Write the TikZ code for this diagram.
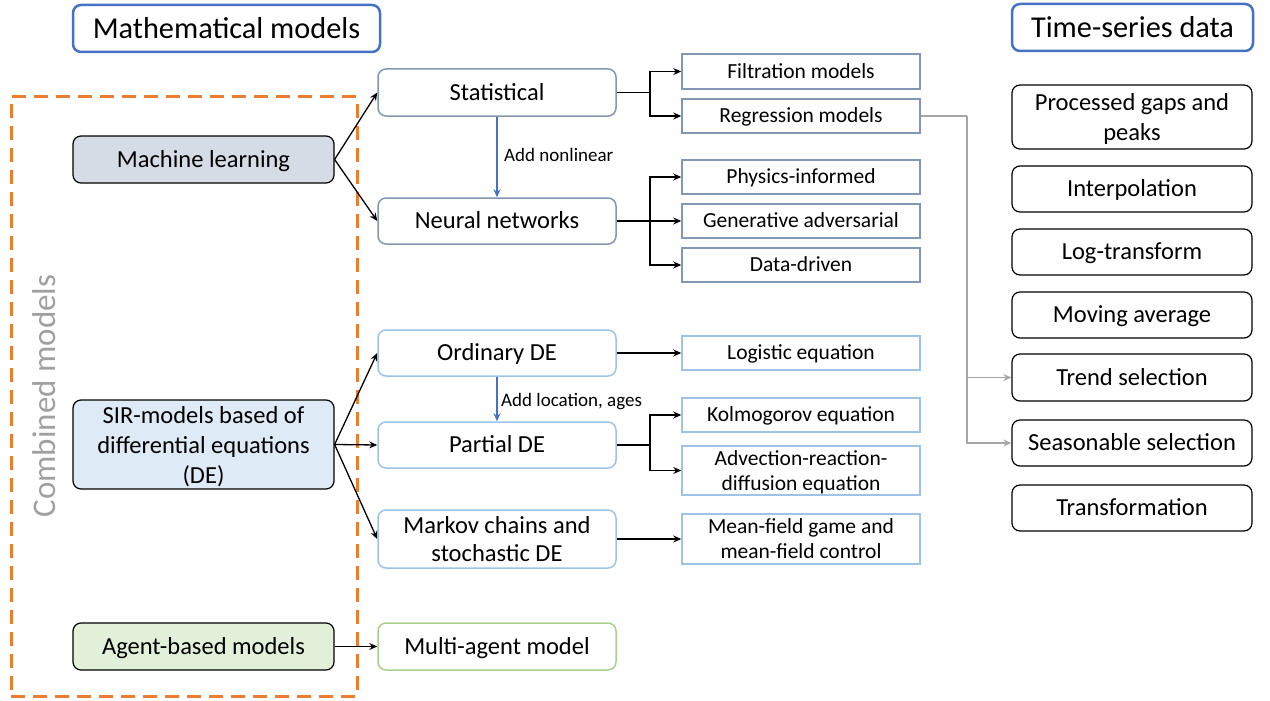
\documentclass[tikz,border=0pt]{standalone}
\usepackage{fontspec}
\setmainfont{Carlito}
\usetikzlibrary{arrows.meta}
\definecolor{hdrblue}{HTML}{4472C4}
\definecolor{slate}{HTML}{8497B0}
\definecolor{lblue}{HTML}{9DC3E6}
\definecolor{lgreen}{HTML}{A9D18E}
\definecolor{mlfill}{HTML}{D6DCE5}
\definecolor{sirfill}{HTML}{DEEBF7}
\definecolor{abfill}{HTML}{E2F0D9}
\definecolor{orng}{HTML}{ED7D31}
\definecolor{gline}{HTML}{A6A6A6}
\definecolor{ctext}{HTML}{A0A0A0}
\tikzset{
  base/.style={inner sep=0pt, align=center, text=black},
  hdr/.style={base, draw=hdrblue, line width=2.5pt, rounded corners=8pt, minimum width=#1, minimum height=47pt, font=\fontsize{30.3}{35}\selectfont, text height=19.3pt, text depth=0pt},
  bigbox/.style={base, draw=black, line width=1.2pt, rounded corners=8pt, font=\fontsize{24.5}{30}\selectfont},
  midbox/.style={base, line width=1.5pt, rounded corners=8pt, minimum width=238pt, font=\fontsize{24.5}{28}\selectfont},
  smallbox/.style={base, line width=1.5pt, minimum width=238pt, font=\fontsize{21.5}{25}\selectfont},
  rbox/.style={base, draw=black, line width=1.2pt, rounded corners=8pt, minimum width=240pt, font=\fontsize{24.5}{30}\selectfont},
  oneL/.style={text height=15.6pt, text depth=0pt},
  oneS/.style={text height=13.7pt, text depth=0pt},
  multi/.style={text depth=0pt},
  arr/.style={line width=1.3pt, -{Stealth[length=8pt,width=7pt]}},
  ln/.style={line width=1.3pt},
  barr/.style={line width=1.3pt, draw=hdrblue, -{Stealth[length=8pt,width=7pt]}},
  garr/.style={line width=1.3pt, draw=gline, -{Stealth[length=8pt,width=7pt]}},
  lbl/.style={inner sep=0pt, anchor=west, font=\fontsize{19}{22}\selectfont, text height=12.1pt, text depth=0pt}
}
\begin{document}
\begin{tikzpicture}[x=1pt,y=-1pt]
\useasboundingbox (0,0) rectangle (1270,701);
% headers
\node[hdr=307pt] (mm) at (226.5,28.5) {Mathematical models};
\node[hdr=241pt] (ts) at (1132.5,27.5) {Time-series data};
% combined models frame
\node[draw=orng, line width=3pt, dash pattern=on 14pt off 8pt, minimum width=346pt, minimum height=599pt, inner sep=0pt] (cb) at (184,396.5) {};
\node[rotate=90, text=ctext, inner sep=0pt, font=\fontsize{33}{38}\selectfont, text height=21pt, text depth=0pt] (cmt) at (45,396) {Combined models};
% left column
\node[bigbox, oneL, fill=mlfill, minimum width=261pt, minimum height=47pt] (ml) at (203.5,159.5) {Machine learning};
\node[bigbox, multi, fill=sirfill, minimum width=261pt, minimum height=89pt] (sir) at (203.5,444.5) {SIR-models based of\\differential equations\\(DE)};
\node[bigbox, oneL, fill=abfill, minimum width=261pt, minimum height=47pt] (ab) at (203.5,646.5) {Agent-based models};
% middle column
\node[midbox, oneL, draw=slate, minimum height=47pt] (stat) at (497,92.5) {Statistical};
\node[midbox, oneL, draw=slate, minimum height=46pt] (nn) at (497,221) {Neural networks};
\node[midbox, oneL, draw=lblue, minimum height=46pt] (ode) at (497,353) {Ordinary DE};
\node[midbox, oneL, draw=lblue, minimum height=46pt] (pde) at (497,445) {Partial DE};
\node[midbox, multi, draw=lblue, minimum height=58pt] (mc) at (497,539) {Markov chains and\\stochastic DE};
\node[midbox, oneL, draw=lgreen, minimum height=47pt] (ma) at (497,646.5) {Multi-agent model};
% small boxes
\node[smallbox, oneS, draw=slate, minimum height=35pt] (filt) at (801,71.5) {Filtration models};
\node[smallbox, oneS, draw=slate, minimum height=34pt] (reg) at (801,116) {Regression models};
\node[smallbox, oneS, draw=slate, minimum height=34pt] (phys) at (801,177) {Physics-informed};
\node[smallbox, oneS, draw=slate, minimum height=34pt] (gen) at (801,221) {Generative adversarial};
\node[smallbox, oneS, draw=slate, minimum height=34pt] (dd) at (801,265) {Data-driven};
\node[smallbox, oneS, draw=lblue, minimum height=34pt] (log) at (801,353) {Logistic equation};
\node[smallbox, oneS, draw=lblue, minimum height=34pt] (kol) at (801,415) {Kolmogorov equation};
\node[smallbox, multi, draw=lblue, minimum height=49pt] (adv) at (801,470.5) {Advection-reaction-\\diffusion equation};
\node[smallbox, multi, draw=lblue, minimum height=50pt] (mf) at (801,539) {Mean-field game and\\mean-field control};
% right column
\node[rbox, multi, minimum height=64pt] (pg) at (1132,117) {Processed gaps and\\peaks};
\node[rbox, oneL, minimum height=46pt] (interp) at (1132,189) {Interpolation};
\node[rbox, oneL, minimum height=46pt] (logt) at (1132,252) {Log-transform};
\node[rbox, oneL, minimum height=46pt] (mov) at (1132,315) {Moving average};
\node[rbox, oneL, minimum height=47pt] (trend) at (1132,377.5) {Trend selection};
\node[rbox, oneL, minimum height=46pt] (seas) at (1132,443) {Seasonable selection};
\node[rbox, oneL, minimum height=46pt] (trans) at (1132,508) {Transformation};
% connectors left -> middle
\draw[arr] (ml.east) -- (stat.west);
\draw[arr] (ml.east) -- (nn.west);
\draw[arr] (sir.east) -- (ode.west);
\draw[arr] (sir.east) -- (pde.west);
\draw[arr] (sir.east) -- (mc.west);
\draw[arr] (ab.east) -- (ma.west);
% blue vertical arrows
\draw[barr] (stat.south) -- (nn.north);
\node[lbl] (l1) at (504,155) {Add nonlinear};
\draw[barr] (ode.south) -- (pde.north);
\node[lbl] (l2) at (501,400) {Add location, ages};
% branches
\coordinate (j1) at (650,92.5);
\draw[ln] (stat.east) -- (j1);
\draw[arr] (j1) |- (filt.west);
\draw[arr] (j1) |- (reg.west);
\coordinate (j2) at (650,221);
\draw[ln] (nn.east) -- (j2);
\draw[arr] (j2) |- (phys.west);
\draw[arr] (j2) -- (gen.west);
\draw[arr] (j2) |- (dd.west);
\draw[arr] (ode.east) -- (log.west);
\coordinate (j3) at (650,445);
\draw[ln] (pde.east) -- (j3);
\draw[arr] (j3) |- (kol.west);
\draw[arr] (j3) |- (adv.west);
\draw[arr] (mc.east) -- (mf.west);
% gray connectors
\coordinate (g) at (967,116);
\draw[line width=1.3pt, draw=gline] (reg.east) -- (g);
\draw[garr] (g) |- (trend.west);
\draw[garr] (g) |- (seas.west);
\end{tikzpicture}
\end{document}
